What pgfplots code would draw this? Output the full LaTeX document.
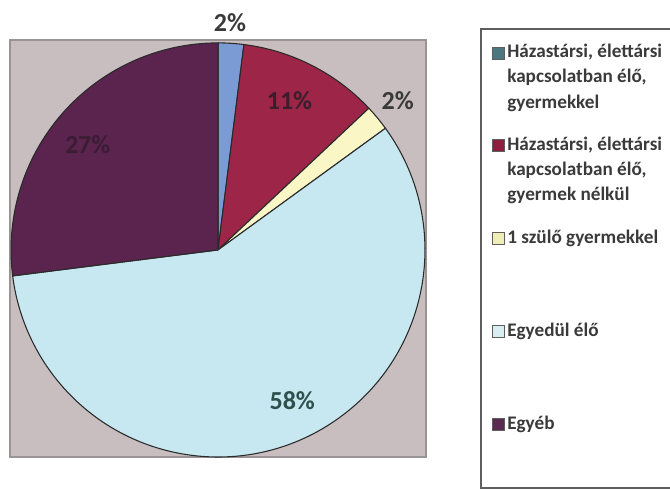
\documentclass[border=0pt]{standalone}
\usepackage{pgfplots}
\pgfplotsset{compat=1.18}
\usepackage{pgfplotstable}
\usepackage{fontspec}
\setmainfont{Carlito}

\definecolor{slice0}{HTML}{7B9BD4}
\definecolor{slice1}{HTML}{9C2548}
\definecolor{slice2}{HTML}{FAF6C6}
\definecolor{slice3}{HTML}{C7E8F0}
\definecolor{slice4}{HTML}{5A244F}
\definecolor{lab0}{HTML}{3A3A3A}
\definecolor{lab1}{HTML}{3B1E2C}
\definecolor{lab2}{HTML}{3A3A3A}
\definecolor{lab3}{HTML}{2E4F4C}
\definecolor{lab4}{HTML}{3A1C33}
\definecolor{mk0}{HTML}{4C7680}
\definecolor{mk1}{HTML}{8E1E3E}
\definecolor{mk2}{HTML}{F0EDB8}
\definecolor{mk3}{HTML}{D8EEF2}
\definecolor{mk4}{HTML}{5A2A50}
\definecolor{plotbg}{HTML}{C8BEBF}
\definecolor{plotborder}{HTML}{9A9394}
\definecolor{pieedge}{HTML}{2A2A2A}
\definecolor{legtext}{HTML}{3A3A3A}
\definecolor{legborder}{HTML}{5E5E5E}

\newcommand\labfont{\fontsize{19.5}{23}\selectfont\bfseries}
\newcommand\legfont{\fontsize{14.4}{18}\selectfont\bfseries}

% share in percent, label distance from centre (radius = 1), label angle nudge
\pgfplotstableread{
pct lrad loff
2   1.10 0.6
11  0.80 1.4
2   1.13 0.2
58  0.81 4.7
27  0.81 2.4
}\piedata
\pgfplotstablecreatecol[create col/expr accum={\pgfmathaccuma-3.6*\thisrow{pct}}{90}]{ea}\piedata

% legend: first-line centre y (px from top), marker colour, lines
\newcommand\legentry[5]{%
  \filldraw[fill=#2, draw=legborder, line width=0.6pt]
    (492,{490-(#1-6)}) rectangle (504,{490-(#1+6)});
  \node[anchor=base west, inner sep=0, text=legtext, font=\legfont] at (507,{490-(#1+5)}) {#3};
  \node[anchor=base west, inner sep=0, text=legtext, font=\legfont] at (507,{490-(#1+30)}) {#4};
  \node[anchor=base west, inner sep=0, text=legtext, font=\legfont] at (507,{490-(#1+55)}) {#5};
}

\begin{document}
\begin{tikzpicture}[x=0.75pt, y=0.75pt]
  \useasboundingbox (0,0) rectangle (670,490);
  \begin{axis}[
      at={(7.5pt,24.75pt)}, anchor=south west,
      width=312pt, height=312.75pt, scale only axis,
      xmin=-1.005, xmax=1.005, ymin=-1.0, ymax=1.014,
      xtick=\empty, ytick=\empty,
      axis line style={draw=plotborder, line width=0.8pt},
      axis background/.style={fill=plotbg},
      clip=false,
    ]
    \pgfplotsinvokeforeach{0,...,4}{
      \pgfplotstablegetelem{#1}{pct}\of\piedata \let\pct\pgfplotsretval
      \pgfplotstablegetelem{#1}{ea}\of\piedata \let\ea\pgfplotsretval
      \pgfplotstablegetelem{#1}{lrad}\of\piedata \let\lr\pgfplotsretval
      \pgfplotstablegetelem{#1}{loff}\of\piedata \let\lo\pgfplotsretval
      \pgfmathsetmacro\sa{\ea+3.6*\pct}
      \pgfmathsetmacro\ma{\ea+1.8*\pct+\lo}
      \pgfmathsetmacro\lx{\lr*cos(\ma)}
      \pgfmathsetmacro\ly{\lr*sin(\ma)}
      \edef\temp{%
        \noexpand\filldraw[fill=slice#1, draw=pieedge, line width=0.8pt, line join=round]
          (axis cs:0,0) -- (axis cs:{cos(\sa)},{sin(\sa)})
          arc[start angle=\sa, end angle=\ea, radius=1] -- cycle;
        \noexpand\node[text=lab#1, font=\noexpand\labfont] at (axis cs:\lx,\ly) {\pct\noexpand\%};
      }
      \temp
    }
  \end{axis}

  \draw[legborder, line width=1pt] (690,461) -- (481,461) -- (481,2) -- (690,2);
  \legentry{53}{mk0}{Házastársi, élettársi}{kapcsolatban élő,}{gyermekkel}
  \legentry{145.75}{mk1}{Házastársi, élettársi}{kapcsolatban élő,}{gyermek nélkül}
  \legentry{238.5}{mk2}{1 szülő gyermekkel}{}{}
  \legentry{331.25}{mk3}{Egyedül élő}{}{}
  \legentry{424}{mk4}{Egyéb}{}{}
\end{tikzpicture}
\end{document}
